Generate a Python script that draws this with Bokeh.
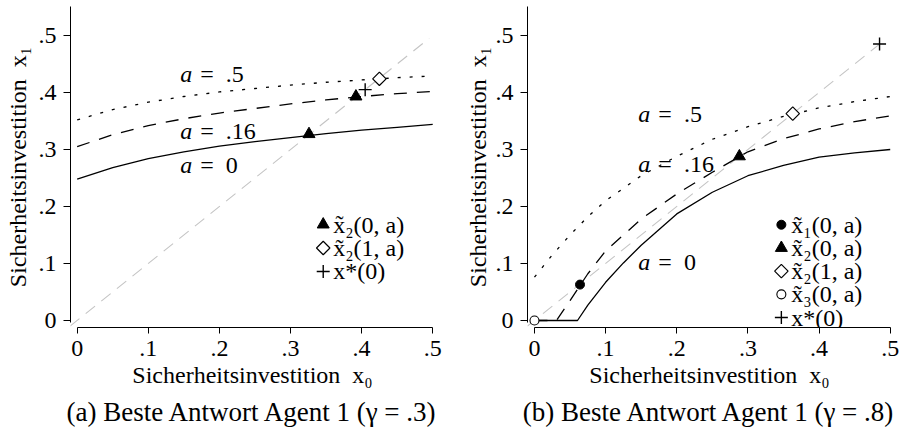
import numpy as np
from bokeh.plotting import figure
from bokeh.models import Range1d, FixedTicker, Title
from bokeh.layouts import row
from bokeh.embed import file_html
from bokeh.resources import INLINE
from bokeh.core.properties import value

FONT = "Liberation Serif"

# ---------------- data ----------------
ticks = [0, 0.1, 0.2, 0.3, 0.4, 0.5]
tick_labels = ["0", ".1", ".2", ".3", ".4", ".5"]
xlabel = "Sicherheitsinvestition\u2002x\u2080"
ylabel = "Sicherheitsinvestition\u2002x\u2081"

# panel (a): gamma = .3
a_x = [0, .05, .1, .15, .2, .25, .3, .35, .4, .45, .5]
a_y_a0 = [0.248, 0.268, 0.284, 0.296, 0.306, 0.314, 0.321, 0.328, 0.334, 0.339, 0.344]
a_y_a16 = [0.305, 0.326, 0.342, 0.354, 0.364, 0.372, 0.380, 0.387, 0.393, 0.398, 0.402]
a_y_a5 = [0.352, 0.370, 0.383, 0.393, 0.401, 0.407, 0.413, 0.418, 0.422, 0.426, 0.429]
a_diag = [-0.01, 0.495]
a_tri_x, a_tri_y = [0.326, 0.392], [0.327, 0.393]
a_dia_x, a_dia_y = [0.425], [0.424]
a_plus_x, a_plus_y = [0.405], [0.405]
a_curve_labels = ["=\u2002.5", "=\u2002.16", "=\u20020"]
a_label_x = [0.145, 0.145, 0.145]
a_label_y = [0.433, 0.333, 0.273]
a_legend = [("tri", "x\u0303\u2082(0, a)"), ("dia", "x\u0303\u2082(1, a)"), ("plus", "x*(0)")]
a_caption = "(a) Beste Antwort Agent 1 (\u03b3 = .3)"

# panel (b): gamma = .8
b_x0 = [0, 0.0605, 0.075, 0.1, 0.125, 0.15, 0.2, 0.25, 0.3, 0.35, 0.4, 0.45, 0.5]
b_y_a0 = [0, 0, 0.027, 0.067, 0.101, 0.132, 0.187, 0.225, 0.254, 0.272, 0.2865, 0.294, 0.300]
b_x16 = [0, 0.031, 0.05, 0.075, 0.1, 0.15, 0.2, 0.25, 0.3, 0.35, 0.4, 0.45, 0.5]
b_y_a16 = [0, 0, 0.035, 0.082, 0.122, 0.178, 0.222, 0.260, 0.296, 0.319, 0.336, 0.349, 0.359]
b_x5 = [0, 0.025, 0.05, 0.075, 0.1, 0.15, 0.2, 0.25, 0.3, 0.35, 0.4, 0.45, 0.5]
b_y_a5 = [0.076, 0.115, 0.150, 0.182, 0.210, 0.254, 0.288, 0.318, 0.340, 0.358, 0.373, 0.384, 0.393]
b_diag = [-0.01, 0.485]
b_dot_x, b_dot_y = [0.064], [0.063]
b_tri_x, b_tri_y = [0.288], [0.288]
b_dia_x, b_dia_y = [0.363], [0.363]
b_ring_x, b_ring_y = [0.0], [0.0]
b_plus_x, b_plus_y = [0.485], [0.485]
b_curve_labels = ["=\u2002.5", "=\u2002.16", "=\u20020"]
b_label_x = [0.146, 0.146, 0.146]
b_label_y = [0.3626, 0.275, 0.102]
b_legend = [("dot", "x\u0303\u2081(0, a)"), ("tri", "x\u0303\u2082(0, a)"),
            ("dia", "x\u0303\u2082(1, a)"), ("ring", "x\u0303\u2083(0, a)"), ("plus", "x*(0)")]
b_caption = "(b) Beste Antwort Agent 1 (\u03b3 = .8)"

# ---------------- styling helpers ----------------
MARKERS = {
    "tri": dict(marker="triangle", size=12, fill_color="black", line_color="black"),
    "dia": dict(marker="square", angle=np.pi / 4, size=9.5, fill_color="white", line_color="black", line_width=1.2),
    "plus": dict(marker="cross", size=13, line_color="black", line_width=1.4),
    "dot": dict(marker="circle", size=9, fill_color="black", line_color="black"),
    "ring": dict(marker="circle", size=9, fill_color="white", line_color="black", line_width=1.1),
}


def draw(p, kind, xs, ys):
    p.scatter(x=xs, y=ys, **MARKERS[kind])


def make_panel(xr, border_left, border_right, ylab_standoff, caption, cap_offset):
    p = figure(width=453, height=434, x_range=Range1d(*xr), y_range=Range1d(-0.0123, 0.5509),
               output_backend="svg", toolbar_location=None,
               min_border_left=border_left, min_border_right=border_right,
               min_border_top=6, min_border_bottom=107,
               outline_line_color=None, background_fill_color="white", border_fill_color="white")
    p.grid.visible = False
    for ax in (p.xaxis[0], p.yaxis[0]):
        ax.ticker = FixedTicker(ticks=ticks, minor_ticks=[])
        ax.major_label_overrides = {t: l for t, l in zip(ticks, tick_labels)}
        ax.major_label_text_font = FONT
        ax.major_label_text_font_size = "24px"
        ax.major_label_text_color = "black"
        ax.axis_label_text_font = FONT
        ax.axis_label_text_font_size = "24px"
        ax.axis_label_text_font_style = "normal"
        ax.axis_label_text_color = "black"
        ax.axis_line_color = "black"
        ax.axis_line_width = 1
        ax.major_tick_line_color = "black"
        ax.major_tick_in = 0
        ax.minor_tick_line_color = None
    p.xaxis.major_tick_out = 6
    p.yaxis.major_tick_out = 7
    p.xaxis.major_label_standoff = 7
    p.yaxis.major_label_standoff = 7
    p.xaxis.axis_label_standoff = 3
    p.yaxis.axis_label_standoff = ylab_standoff
    p.xaxis.bounds = (0, 0.5)
    p.yaxis.bounds = (-0.0035, 0.5509)
    p.xaxis.axis_label = xlabel
    p.yaxis.axis_label = ylabel
    p.yaxis.major_label_orientation = "horizontal"
    p.add_layout(Title(text=caption, align="center", offset=cap_offset, standoff=8,
                       text_font=FONT, text_font_size="27px", text_font_style="normal",
                       text_color="black"), "below")
    return p


def curve_labels(p, xs, ys, texts):
    p.text(x=xs, y=ys, text=["a"] * len(xs), text_font=value(FONT), text_font_style="italic",
           text_font_size="24px", text_baseline="middle", text_align="left", text_color="black")
    p.text(x=xs, y=ys, text=texts, x_offset=20, text_font=value(FONT),
           text_font_size="24px", text_baseline="middle", text_align="left", text_color="black")


def legend(p, entries, mx, ytop, step):
    for i, (kind, txt) in enumerate(entries):
        y = ytop - i * step
        draw(p, kind, [mx], [y])
        p.text(x=[mx], y=[y], text=[txt], x_offset=10, text_font=value(FONT), text_font_size="24px",
               text_baseline="middle", text_align="left", text_color="black")


# ---------------- panel a ----------------
pa = make_panel((-0.0094, 0.5025), 70, 19, 5, a_caption, 8)
pa.line(a_diag, a_diag, line_color="#c4c4c4", line_width=1.1, line_dash="12 8")
pa.line(a_x, a_y_a0, line_color="black", line_width=1.3)
pa.line(a_x, a_y_a16, line_color="black", line_width=1.3, line_dash="13 10")
pa.line(a_x, a_y_a5, line_color="black", line_width=1.3, line_dash="3 9")
draw(pa, "tri", a_tri_x, a_tri_y)
draw(pa, "dia", a_dia_x, a_dia_y)
draw(pa, "plus", a_plus_x, a_plus_y)
curve_labels(pa, a_label_x, a_label_y, a_curve_labels)
legend(pa, a_legend, 0.346, 0.1684, 0.0412)

# ---------------- panel b ----------------
pb = make_panel((-0.0098, 0.5018), 74, 15, 2, b_caption, -22)
pb.line(b_diag, b_diag, line_color="#c4c4c4", line_width=1.1, line_dash="12 8")
pb.line(b_x0, b_y_a0, line_color="black", line_width=1.3)
pb.line(b_x16, b_y_a16, line_color="black", line_width=1.3, line_dash="13 10")
pb.line(b_x5, b_y_a5, line_color="black", line_width=1.3, line_dash="3 9")
draw(pb, "dot", b_dot_x, b_dot_y)
draw(pb, "tri", b_tri_x, b_tri_y)
draw(pb, "dia", b_dia_x, b_dia_y)
draw(pb, "ring", b_ring_x, b_ring_y)
draw(pb, "plus", b_plus_x, b_plus_y)
curve_labels(pb, b_label_x, b_label_y, b_curve_labels)
legend(pb, b_legend, 0.347, 0.168, 0.0407)

layout = row(pa, pb)
open("out.html", "w").write(file_html(layout, INLINE))
